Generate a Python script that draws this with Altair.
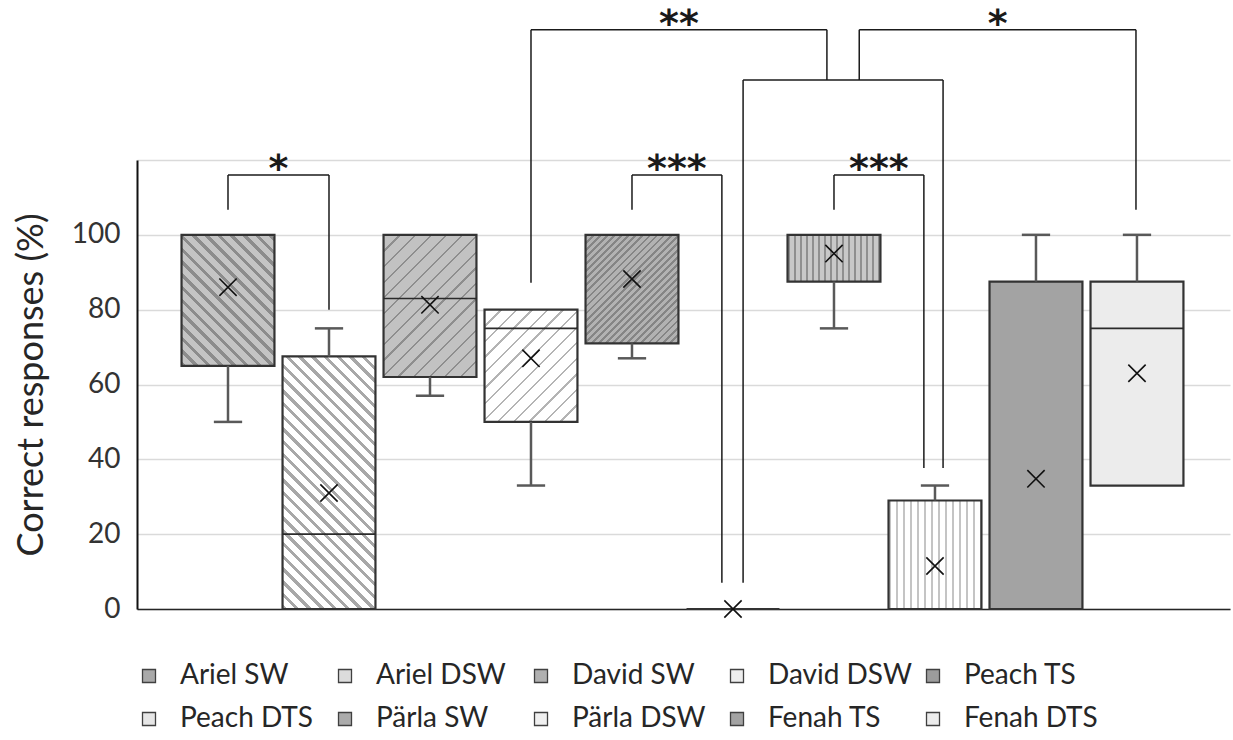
import math
import altair as alt
import pandas as pd

# ---------------- data ----------------
names = ["Ariel SW", "Ariel DSW", "David SW", "David DSW", "Peach TS",
         "Peach DTS", "Pärla SW", "Pärla DSW", "Fenah TS", "Fenah DTS"]
q1 = [65, 0, 62, 50, 71, 0, 87.5, 0, 0, 33]
q3 = [100, 67.5, 100, 80, 100, 0, 100, 29, 87.5, 87.5]
median = [100, 20, 83, 75, 100, 0, 100, 0, 0, 75]
mean = [86, 31, 81.3, 67, 88.2, 0, 95, 11.5, 34.8, 63]
wmin = [50, 0, 57, 33, 67, 0, 75, 0, 0, 33]
wmax = [100, 75, 100, 80, 100, 0, 100, 33, 100, 100]

# significance brackets (x in series positions, y in %)
br_left = [0, 4, 6, 5.1, 3, 6.25]
br_right = [1, 4.89, 6.89, 7.08, 5.93, 8.99]
br_top = [116, 116, 116, 141.4, 154.8, 154.8]
br_left_end = [106.7, 106.7, 106.7, 7, 87.2, 141.4]
br_right_end = [80, 7, 37.7, 37.7, 141.4, 106.7]
br_label = ["*", "***", "***", "", "**", "*"]

y_ticks = [0, 20, 40, 60, 80, 100, 120]

# ---------------- styling ----------------
W, H = 1093, 449
XDOM = [-0.901, 9.921]
YDOM = [0, 120]
px_x = W / (XDOM[1] - XDOM[0])
px_y = H / (YDOM[1] - YDOM[0])
HALF_BOX = 0.46
HALF_CAP = 0.14
FONT = "Lato"

# (background, line colour, stripe angle, period px, line width px) or solid colour
box_fill = {
    "Ariel SW": ("#c4c4c4", "#8c8c8c", 135, 9, 3.2),
    "Ariel DSW": ("#ffffff", "#a8a8a8", 135, 9, 3.2),
    "David SW": ("#c2c2c2", "#8e8e8e", 45, 11, 1.6),
    "David DSW": ("#ffffff", "#b4b4b4", 45, 11, 1.6),
    "Peach TS": ("#b2b2b2", "#858585", 45, 5, 2.0),
    "Peach DTS": "#e6e6e6",
    "Pärla SW": ("#c8c8c8", "#8f8f8f", 90, 6, 2.2),
    "Pärla DSW": ("#ffffff", "#c4c4c4", 90, 7, 2.0),
    "Fenah TS": "#a3a3a3",
    "Fenah DTS": "#ececec",
}
legend_colors = ["#a9a9a9", "#dcdcdc", "#b0b0b0", "#eeeeee", "#9c9c9c",
                 "#e6e6e6", "#ababab", "#f0f0f0", "#a3a3a3", "#ececec"]


def hatch(bg, fg, angle_deg, period, line_w, w, h):
    a = math.radians(angle_deg)
    d = (math.cos(a), -math.sin(a))
    nx, ny = -d[1], d[0]
    if abs(nx) < 1e-9:
        nx = 0.0
    if abs(ny) < 1e-9:
        ny = 0.0
    x1 = 1.0 if nx < 0 else 0.0
    y1 = 1.0 if ny < 0 else 0.0
    ds = abs(w * nx) + abs(h * ny)
    Q = (w * nx) ** 2 + (h * ny) ** 2
    k = ds / Q
    x2 = x1 + k * w * nx
    y2 = y1 + k * h * ny
    stops = []
    pos = 0.0
    while pos < ds - 1e-6:
        a1 = min(pos + line_w, ds)
        b1 = min(pos + period, ds)
        for off, col in ((pos, fg), (a1, fg), (a1, bg), (b1, bg)):
            stops.append(alt.GradientStop(offset=round(off / ds, 5), color=col))
        pos += period
    return alt.LinearGradient(gradient="linear", stops=stops,
                              x1=x1, y1=y1, x2=round(x2, 5), y2=round(y2, 5))


x_axis = alt.Axis(labels=False, ticks=False, grid=False, domain=True,
                  domainColor="#262626", domainWidth=1.5, title=None)
y_axis = alt.Axis(values=y_ticks, labelExpr="datum.value > 100 ? '' : datum.label",
                  title="Correct responses (%)", grid=True, gridColor="#dadada",
                  gridWidth=1.5, ticks=False, tickSize=0, labelPadding=17,
                  labelFont=FONT, labelFontSize=28, labelColor="#333333",
                  domainColor="#111111", domainWidth=2,
                  titleFont=FONT, titleFontSize=36, titleFontWeight="normal",
                  titleColor="#262626", titleX=-106, titleY=H / 2,
                  titleBaseline="middle", titleAngle=-90)


def X(f):
    return alt.X(f"{f}:Q", scale=alt.Scale(domain=XDOM, nice=False, zero=False), axis=x_axis)


def Y(f):
    return alt.Y(f"{f}:Q", scale=alt.Scale(domain=YDOM, nice=False, zero=False), axis=y_axis)


df = pd.DataFrame({"name": names, "idx": list(range(len(names))), "q1": q1, "q3": q3,
                   "med": median, "mean": mean, "lo": wmin, "hi": wmax})
base = alt.Chart(df).transform_calculate(
    xa=f"datum.idx - {HALF_BOX}", xb=f"datum.idx + {HALF_BOX}",
    ca=f"datum.idx - {HALF_CAP}", cb=f"datum.idx + {HALF_CAP}")

layers = []
for i, n in enumerate(names):
    st = box_fill[n]
    if isinstance(st, tuple):
        w_px = 2 * HALF_BOX * px_x
        h_px = max((q3[i] - q1[i]) * px_y, 1)
        fill = hatch(st[0], st[1], st[2], st[3], st[4], w_px, h_px)
    else:
        fill = st
    layers.append(
        base.transform_filter(alt.datum.idx == i)
        .mark_rect(fill=fill, stroke="#333333", strokeWidth=2.2)
        .encode(x=X("xa"), x2="xb", y=Y("q1"), y2="q3")
    )

# medians
layers.append(
    base.transform_filter("datum.med > datum.q1 && datum.med < datum.q3")
    .mark_rule(color="#2a2a2a", strokeWidth=1.6)
    .encode(x=X("xa"), x2="xb", y=Y("med"))
)
# whiskers
wh = dict(color="#595959", strokeWidth=2.5)
layers.append(base.transform_filter("datum.lo < datum.q1").mark_rule(**wh)
              .encode(x=X("idx"), y=Y("lo"), y2="q1"))
layers.append(base.transform_filter("datum.hi > datum.q3").mark_rule(**wh)
              .encode(x=X("idx"), y=Y("q3"), y2="hi"))
layers.append(base.transform_filter("datum.lo < datum.q1").mark_rule(**wh)
              .encode(x=X("ca"), x2="cb", y=Y("lo")))
layers.append(base.transform_filter("datum.hi > datum.q3").mark_rule(**wh)
              .encode(x=X("ca"), x2="cb", y=Y("hi")))
# means
layers.append(
    base.mark_point(shape="M-1,-1L1,1M-1,1L1,-1", size=300, filled=False,
                    stroke="#111111", strokeWidth=1.6, opacity=1)
    .encode(x=X("idx"), y=Y("mean"))
)

# brackets
bdf = pd.DataFrame({"l": br_left, "r": br_right, "t": br_top,
                    "le": br_left_end, "re": br_right_end, "lab": br_label})
bb = alt.Chart(bdf).transform_calculate(c="(datum.l + datum.r) / 2")
rs = dict(color="#1a1a1a", strokeWidth=1.5)
layers.append(bb.mark_rule(**rs).encode(x=X("l"), x2="r", y=Y("t")))
layers.append(bb.mark_rule(**rs).encode(x=X("l"), y=Y("t"), y2="le"))
layers.append(bb.mark_rule(**rs).encode(x=X("r"), y=Y("t"), y2="re"))
layers.append(
    bb.mark_text(font="DejaVu Sans", fontSize=38, fontWeight="bold",
                 baseline="alphabetic", dy=6, color="#1a1a1a")
    .encode(x=X("c"), y=Y("t"), text="lab:N")
)

# legend driver
layers.append(
    base.mark_square(opacity=0, size=10, stroke="#404040", strokeWidth=1.3)
    .encode(x=X("idx"), y=Y("q1"),
            fill=alt.Fill("name:N", scale=alt.Scale(domain=names, range=legend_colors),
                          legend=alt.Legend(title=None, orient="none", legendX=-2, legendY=502,
                                            direction="horizontal", columns=5, gridAlign="all",
                                            symbolType="square", symbolSize=169,
                                            symbolStrokeColor="#404040", symbolStrokeWidth=1.3,
                                            symbolOpacity=1, labelFont=FONT, labelFontSize=28,
                                            labelColor="#262626", labelOffset=17,
                                            columnPadding=7, rowPadding=15, padding=0,
                                            labelLimit=400)))
)

chart = alt.layer(*layers).properties(
    width=W, height=H,
    autosize=alt.AutoSizeParams(type="none"),
    padding={"left": 137, "top": 160, "right": 3, "bottom": 131},
).configure_view(stroke=None)

chart.save("out.html", embed_options={"renderer": "svg", "actions": False})
